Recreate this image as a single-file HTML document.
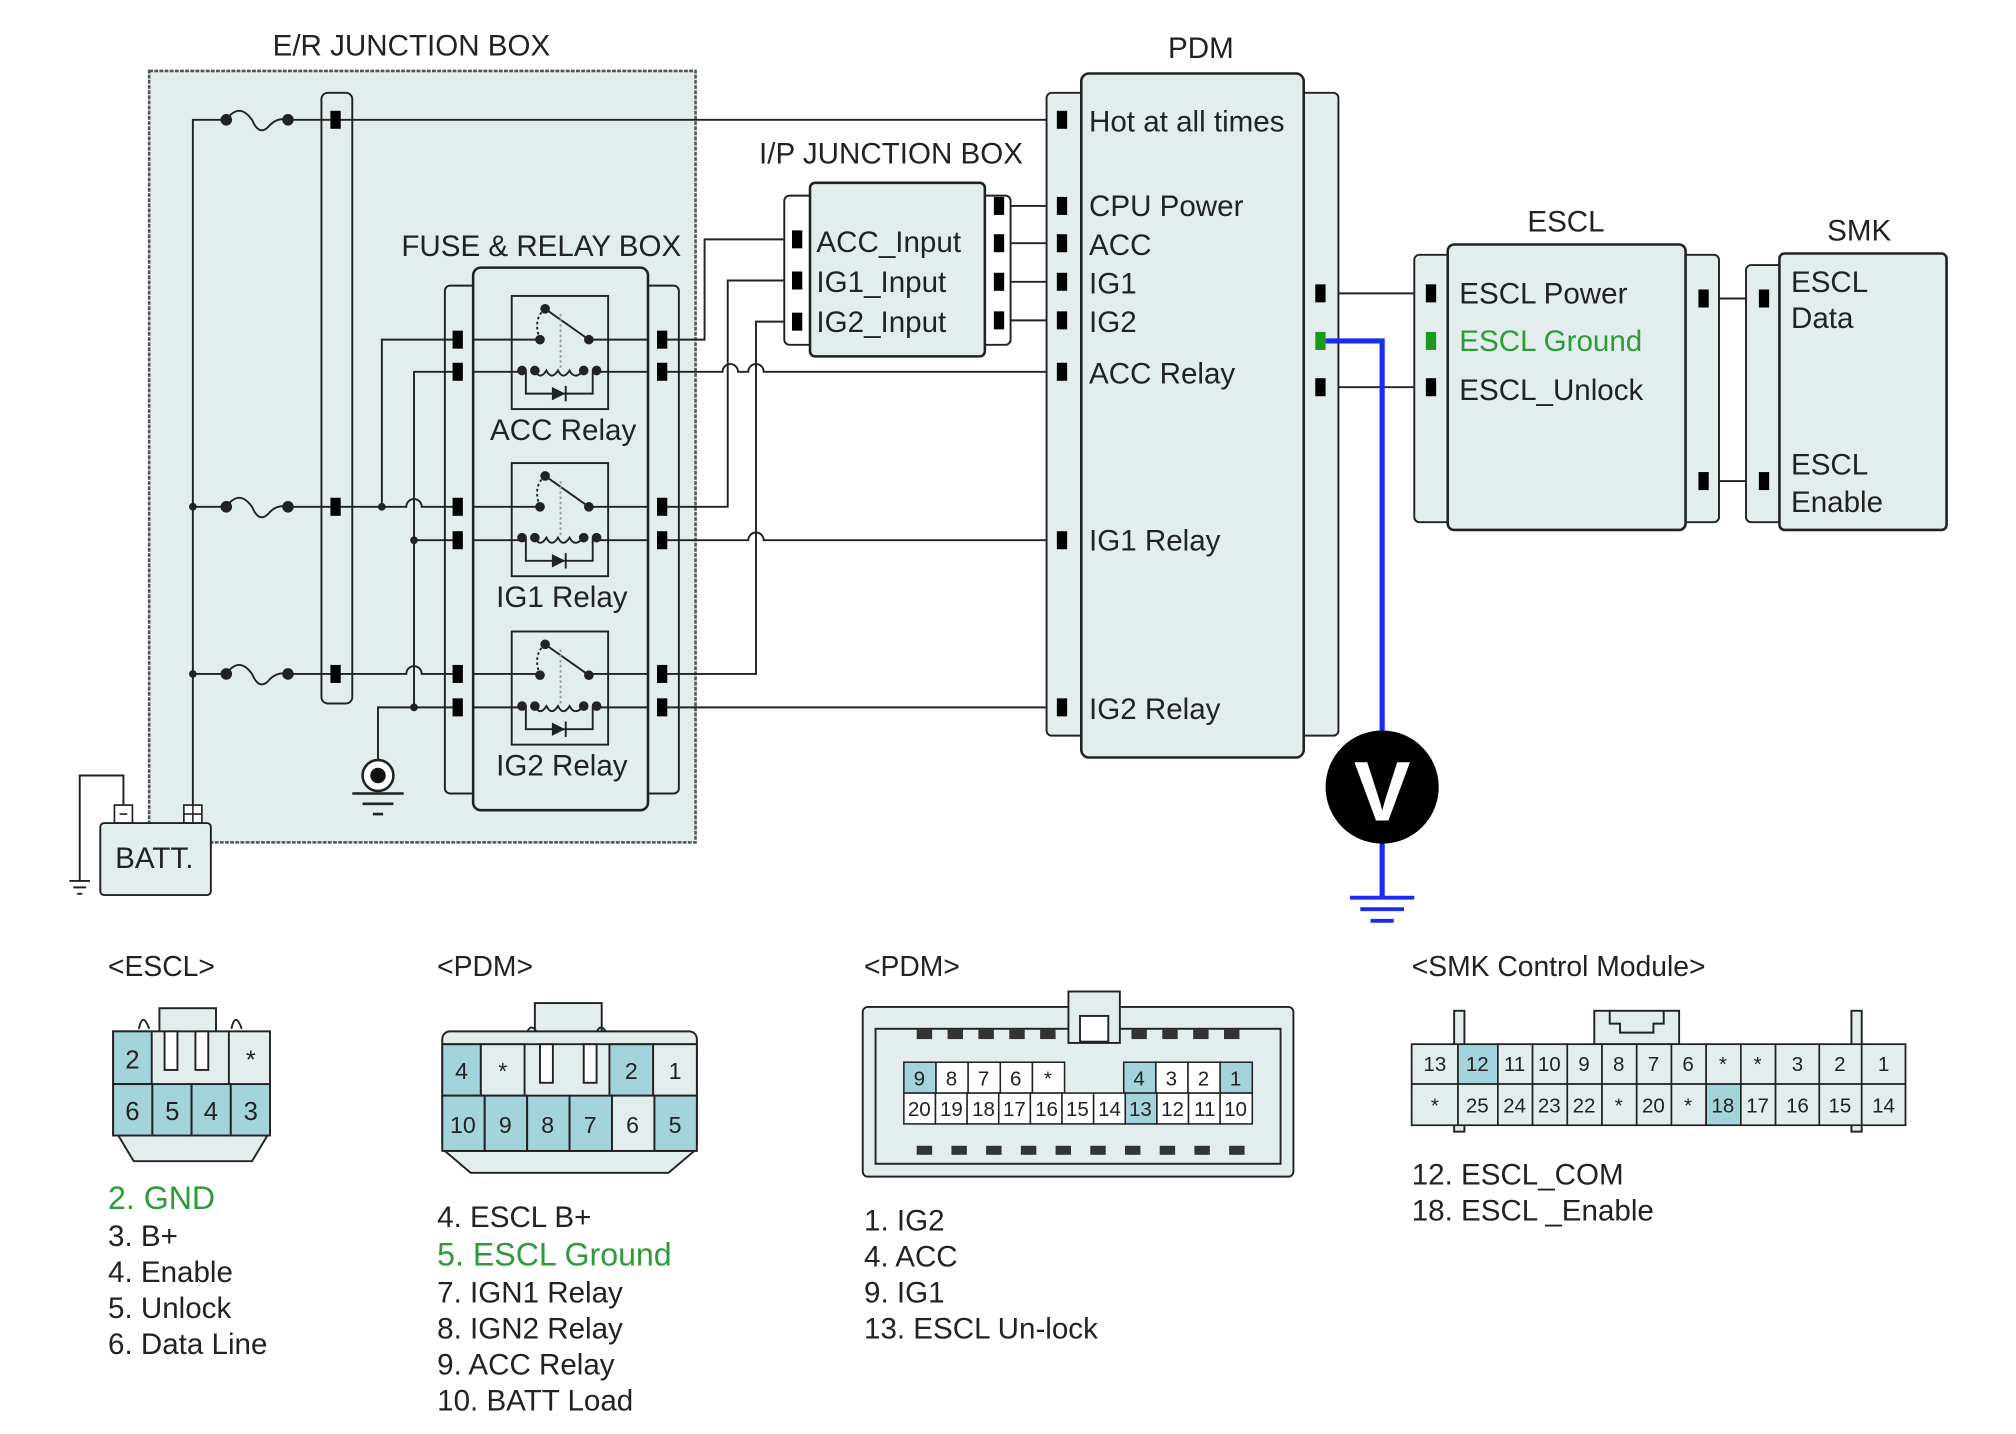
<!DOCTYPE html>
<html><head><meta charset="utf-8"><style>
html,body{margin:0;padding:0;background:#fff;width:2016px;height:1434px;overflow:hidden}
svg{display:block}
text{font-family:"Liberation Sans",sans-serif;fill:#222}
</style></head><body>
<svg width="2016" height="1434" viewBox="0 0 1568 1115" xmlns="http://www.w3.org/2000/svg">
<defs>
<g id="p"><rect x="-4" y="-7" width="8" height="14" fill="#000"/></g>
<g id="relay" fill="none" stroke="#222" stroke-width="1.5">
<rect x="0" y="0" width="75" height="88" fill="#e4eded"/>
<circle cx="26" cy="10" r="3" fill="#222"/>
<path d="M26 10 L60 34"/>
<circle cx="60" cy="34" r="3" fill="#222"/>
<circle cx="22" cy="34" r="3" fill="#222"/>
<path d="M26 10 Q16 18 22 34" stroke-dasharray="2 2"/>
<path d="M38 14 V56" stroke="#999" stroke-dasharray="2 2"/>
<circle cx="8" cy="58" r="3" fill="#222"/><circle cx="18" cy="58" r="3" fill="#222"/>
<circle cx="56" cy="58" r="3" fill="#222"/><circle cx="66" cy="58" r="3" fill="#222"/>
<path d="M18 58 q4 8 9 0 q4 8 9 0 q4 8 9 0 q4 8 11 0"/>
<path d="M11 58 V76 H63 V58"/>
<path d="M32 72 L40 76 L32 80 Z" fill="#222"/><path d="M42 70 V82"/>
</g>
</defs>

<rect x="116" y="55" width="425" height="600" fill="#e4eded" stroke="#555" stroke-width="2" stroke-dasharray="3 1"/>
<text x="320" y="43" font-size="23" text-anchor="middle">E/R JUNCTION BOX</text>
<rect x="250" y="72" width="24" height="475" rx="5" fill="none" stroke="#222" stroke-width="1.5"/>

<g fill="none" stroke="#222" stroke-width="1.5">
<path d="M150 632 V93 H176"/>
<path d="M176 93 q10 -14 20 0 q6 14 14 4 q6 -6 14 -4"/>
<path d="M224 93 H826"/>
<path d="M150 394 H176 M176 394 q10 -14 20 0 q6 14 14 4 q6 -6 14 -4 M224 394 H316 a6 6 0 0 1 12 0 H358"/>
<path d="M150 524 H176 M176 524 q10 -14 20 0 q6 14 14 4 q6 -6 14 -4 M224 524 H316 a6 6 0 0 1 12 0 H358"/>
<path d="M297 394 V264 H358"/>
<path d="M358 289 H322 V550 H358"/>
<path d="M322 420 H358"/>
<path d="M294 592 V550 H322"/>
<path d="M515 264 H548 V186 H620"/>
<path d="M515 289 H562 a6 6 0 0 1 12 0 H582 a6 6 0 0 1 12 0 H826"/>
<path d="M515 394 H566 V218 H620"/>
<path d="M515 420 H582 a6 6 0 0 1 12 0 H826"/>
<path d="M515 524 H588 V250 H620"/>
<path d="M515 550 H826"/>
<path d="M777 160 H826 M777 189 H826 M777 219 H826 M777 249 H826"/>
<path d="M1027 228 H1113 M1027 301 H1113 M1325 232 H1372 M1325 374 H1372"/>
</g>
<g fill="#222">
<circle cx="176" cy="93" r="4.5"/><circle cx="224" cy="93" r="4.5"/>
<circle cx="176" cy="394" r="4.5"/><circle cx="224" cy="394" r="4.5"/>
<circle cx="176" cy="524" r="4.5"/><circle cx="224" cy="524" r="4.5"/>
<circle cx="150" cy="394" r="3"/><circle cx="150" cy="524" r="3"/>
<circle cx="297" cy="394" r="3"/><circle cx="322" cy="420" r="3"/><circle cx="322" cy="550" r="3"/>
</g>
<circle cx="294" cy="603" r="12" fill="#fff" stroke="#222" stroke-width="2"/>
<circle cx="294" cy="603" r="6" fill="#111"/>
<path d="M274 617 H314 M282 625 H306 M290 633 H298" stroke="#222" stroke-width="2"/>

<text x="421" y="199" font-size="23" text-anchor="middle">FUSE &amp; RELAY BOX</text>
<rect x="346" y="222" width="30" height="395" rx="4" fill="none" stroke="#222" stroke-width="1.5"/>
<rect x="496" y="222" width="32" height="395" rx="4" fill="none" stroke="#222" stroke-width="1.5"/>
<rect x="368" y="208" width="136" height="422" rx="6" fill="#e4eded" stroke="#222" stroke-width="2"/>
<use href="#relay" x="398" y="230"/>
<use href="#relay" x="398" y="360"/>
<use href="#relay" x="398" y="491"/>
<g fill="none" stroke="#222" stroke-width="1.5">
<path d="M368 264 H420 M458 264 H504 M368 289 H406 M464 289 H504"/>
<path d="M368 394 H420 M458 394 H504 M368 420 H406 M464 420 H504"/>
<path d="M368 524 H420 M458 524 H504 M368 550 H406 M464 550 H504"/>
</g>
<text x="438" y="342" font-size="23" text-anchor="middle">ACC Relay</text>
<text x="437" y="472" font-size="23" text-anchor="middle">IG1 Relay</text>
<text x="437" y="603" font-size="23" text-anchor="middle">IG2 Relay</text>
<use href="#p" x="261" y="93"/><use href="#p" x="261" y="394"/><use href="#p" x="261" y="524"/>
<use href="#p" x="356" y="264"/><use href="#p" x="356" y="289"/><use href="#p" x="356" y="394"/><use href="#p" x="356" y="420"/><use href="#p" x="356" y="524"/><use href="#p" x="356" y="550"/>
<use href="#p" x="515" y="264"/><use href="#p" x="515" y="289"/><use href="#p" x="515" y="394"/><use href="#p" x="515" y="420"/><use href="#p" x="515" y="524"/><use href="#p" x="515" y="550"/>

<path d="M96 626 V603 H62 V685 M54 685 H70 M57 690 H67 M60 695 H64" fill="none" stroke="#222" stroke-width="1.5"/>
<rect x="89" y="626" width="14" height="14" fill="#fff" stroke="#222" stroke-width="1.3"/>
<rect x="143" y="626" width="14" height="14" fill="#fff" stroke="#222" stroke-width="1.3"/>
<path d="M150 626 V640 M143 633 H157 M93 633 H99" stroke="#222" stroke-width="1.2"/>
<rect x="78" y="640" width="86" height="56" rx="3" fill="#e4eded" stroke="#222" stroke-width="1.5"/>
<text x="120" y="675" font-size="23" text-anchor="middle">BATT.</text>

<text x="693" y="127" font-size="23" text-anchor="middle">I/P JUNCTION BOX</text>
<rect x="610" y="152" width="28" height="116" rx="4" fill="#fff" stroke="#222" stroke-width="1.5"/>
<rect x="758" y="152" width="28" height="116" rx="4" fill="#fff" stroke="#222" stroke-width="1.5"/>
<rect x="630" y="142" width="136" height="135" rx="4" fill="#e4eded" stroke="#222" stroke-width="2"/>
<text x="635" y="196" font-size="23">ACC_Input</text>
<text x="635" y="227" font-size="23">IG1_Input</text>
<text x="635" y="258" font-size="23">IG2_Input</text>
<use href="#p" x="620" y="186"/><use href="#p" x="620" y="218"/><use href="#p" x="620" y="250"/>
<use href="#p" x="777" y="160"/><use href="#p" x="777" y="189"/><use href="#p" x="777" y="219"/><use href="#p" x="777" y="249"/>

<text x="934" y="45" font-size="23" text-anchor="middle">PDM</text>
<rect x="814" y="72" width="36" height="500" rx="4" fill="#e4eded" stroke="#222" stroke-width="1.5"/>
<rect x="1005" y="72" width="36" height="500" rx="4" fill="#e4eded" stroke="#222" stroke-width="1.5"/>
<rect x="841" y="57" width="173" height="532" rx="6" fill="#e4eded" stroke="#222" stroke-width="2"/>
<g font-size="23">
<text x="847" y="102">Hot at all times</text>
<text x="847" y="168">CPU Power</text>
<text x="847" y="198">ACC</text>
<text x="847" y="228">IG1</text>
<text x="847" y="258">IG2</text>
<text x="847" y="298">ACC Relay</text>
<text x="847" y="428">IG1 Relay</text>
<text x="847" y="559">IG2 Relay</text>
</g>
<use href="#p" x="826" y="93"/><use href="#p" x="826" y="160"/><use href="#p" x="826" y="189"/><use href="#p" x="826" y="219"/><use href="#p" x="826" y="249"/><use href="#p" x="826" y="289"/><use href="#p" x="826" y="420"/><use href="#p" x="826" y="550"/>
<use href="#p" x="1027" y="228"/><use href="#p" x="1027" y="301"/>

<text x="1218" y="180" font-size="23" text-anchor="middle">ESCL</text>
<rect x="1100" y="198" width="36" height="208" rx="4" fill="#e4eded" stroke="#222" stroke-width="1.5"/>
<rect x="1301" y="198" width="36" height="208" rx="4" fill="#e4eded" stroke="#222" stroke-width="1.5"/>
<rect x="1126" y="190" width="185" height="222" rx="5" fill="#e4eded" stroke="#222" stroke-width="2"/>
<text x="1135" y="236" font-size="23">ESCL Power</text>
<text x="1135" y="273" font-size="23" style="fill:#2e9a3a">ESCL Ground</text>
<text x="1135" y="311" font-size="23">ESCL_Unlock</text>
<use href="#p" x="1113" y="228"/><use href="#p" x="1113" y="301"/>
<rect x="1109" y="258" width="8" height="14" fill="#1a9a1a"/>
<use href="#p" x="1325" y="232"/><use href="#p" x="1325" y="374"/>

<text x="1446" y="187" font-size="23" text-anchor="middle">SMK</text>
<rect x="1358" y="206" width="36" height="200" rx="4" fill="#e4eded" stroke="#222" stroke-width="1.5"/>
<rect x="1384" y="197" width="130" height="215" rx="4" fill="#e4eded" stroke="#222" stroke-width="2"/>
<g font-size="23"><text x="1393" y="227">ESCL</text><text x="1393" y="255">Data</text><text x="1393" y="369">ESCL</text><text x="1393" y="398">Enable</text></g>
<use href="#p" x="1372" y="232"/><use href="#p" x="1372" y="374"/>

<path d="M1031 265 H1075 V698" fill="none" stroke="#1a2cf0" stroke-width="4"/>
<path d="M1050 698 H1100 M1058 707 H1092 M1066 716 H1084" stroke="#1a2cf0" stroke-width="3"/>
<rect x="1023" y="258" width="8" height="14" fill="#1a9a1a"/>
<circle cx="1075" cy="612" r="44" fill="#000"/>
<text x="1075" y="638" font-size="66" font-weight="bold" text-anchor="middle" style="fill:#fff">V</text>

<g font-size="22">
<text x="84" y="759">&lt;ESCL&gt;</text>
<text x="340" y="759">&lt;PDM&gt;</text>
<text x="672" y="759">&lt;PDM&gt;</text>
<text x="1098" y="759">&lt;SMK Control Module&gt;</text>
</g>
<g font-size="23">
<text x="84" y="940" style="fill:#2e9a3a" font-size="25">2. GND</text>
<text x="84" y="969">3. B+</text>
<text x="84" y="997">4. Enable</text>
<text x="84" y="1025">5. Unlock</text>
<text x="84" y="1053">6. Data Line</text>
<text x="340" y="954">4. ESCL B+</text>
<text x="340" y="984" style="fill:#2e9a3a" font-size="25">5. ESCL Ground</text>
<text x="340" y="1013">7. IGN1 Relay</text>
<text x="340" y="1041">8. IGN2 Relay</text>
<text x="340" y="1069">9. ACC Relay</text>
<text x="340" y="1097">10. BATT Load</text>
<text x="672" y="957">1. IG2</text>
<text x="672" y="985">4. ACC</text>
<text x="672" y="1013">9. IG1</text>
<text x="672" y="1041">13. ESCL Un-lock</text>
<text x="1098" y="921">12. ESCL_COM</text>
<text x="1098" y="949">18. ESCL _Enable</text>
</g>

<g stroke="#222" stroke-width="1.5" font-size="18">
<path d="M92 883 L104 903 H196 L208 883" fill="#e4eded"/>
<path d="M108 800 q3 -14 8 0 M180 800 q3 -14 8 0" fill="none"/>
<rect x="124" y="784" width="44" height="28" fill="#e4eded"/>
<rect x="88" y="802" width="122" height="81" fill="#e4eded"/>
<rect x="88" y="802" width="30" height="41" fill="#a3d3db"/>
<rect x="128" y="802" width="10" height="30" fill="#fff"/><rect x="152" y="802" width="10" height="30" fill="#fff"/>
<rect x="88" y="843" width="30.5" height="40" fill="#a3d3db"/>
<rect x="118.5" y="843" width="30.5" height="40" fill="#a3d3db"/>
<rect x="149" y="843" width="30.5" height="40" fill="#a3d3db"/>
<rect x="179.5" y="843" width="30.5" height="40" fill="#a3d3db"/>
<line x1="178" y1="802" x2="178" y2="843"/>
</g>
<g font-size="20" text-anchor="middle"><text x="103" y="831">2</text><text x="195" y="831">*</text>
<text x="103" y="871">6</text><text x="134" y="871">5</text><text x="164" y="871">4</text><text x="195" y="871">3</text></g>

<g stroke="#222" stroke-width="1.5">
<path d="M346 895 L366 912 H520 L540 895" fill="#e4eded"/>
<rect x="416" y="780" width="52" height="34" fill="#e4eded"/>
<path d="M408 808 q5 -18 12 0 M462 808 q5 -18 12 0" fill="none"/>
<rect x="344" y="802" width="198" height="93" rx="6" fill="#e4eded"/>
<line x1="344" y1="812" x2="542" y2="812"/>
<rect x="344" y="812" width="30" height="40" fill="#a3d3db"/>
<rect x="374" y="812" width="34" height="40" fill="#e4eded"/>
<rect x="474" y="812" width="34" height="40" fill="#a3d3db"/>
<rect x="508" y="812" width="34" height="40" fill="#e4eded"/>
<rect x="420" y="812" width="10" height="30" fill="#fff"/><rect x="454" y="812" width="10" height="30" fill="#fff"/>
<rect x="344" y="852" width="33" height="43" fill="#a3d3db"/>
<rect x="377" y="852" width="33" height="43" fill="#a3d3db"/>
<rect x="410" y="852" width="33" height="43" fill="#a3d3db"/>
<rect x="443" y="852" width="33" height="43" fill="#a3d3db"/>
<rect x="476" y="852" width="33" height="43" fill="#e4eded"/>
<rect x="509" y="852" width="33" height="43" fill="#a3d3db"/>
</g>
<g font-size="18" text-anchor="middle"><text x="359" y="839">4</text><text x="391" y="839">*</text><text x="491" y="839">2</text><text x="525" y="839">1</text>
<text x="360" y="881">10</text><text x="393" y="881">9</text><text x="426" y="881">8</text><text x="459" y="881">7</text><text x="492" y="881">6</text><text x="525" y="881">5</text></g>

<g stroke="#222" stroke-width="1.5">
<rect x="671" y="783" width="335" height="132" rx="4" fill="#e4eded"/>
<rect x="681" y="800" width="315" height="105" fill="#e4eded"/>
<rect x="831" y="771" width="40" height="40" fill="#e4eded"/>
<rect x="840" y="790" width="22" height="20" fill="#fff"/>
</g>
<g fill="#333">
<rect x="713" y="800" width="12" height="8"/><rect x="737" y="800" width="12" height="8"/><rect x="761" y="800" width="12" height="8"/><rect x="785" y="800" width="12" height="8"/><rect x="809" y="800" width="12" height="8"/>
<rect x="880" y="800" width="12" height="8"/><rect x="904" y="800" width="12" height="8"/><rect x="928" y="800" width="12" height="8"/><rect x="952" y="800" width="12" height="8"/>
<rect x="713" y="891" width="12" height="7"/><rect x="740" y="891" width="12" height="7"/><rect x="767" y="891" width="12" height="7"/><rect x="794" y="891" width="12" height="7"/><rect x="821" y="891" width="12" height="7"/><rect x="848" y="891" width="12" height="7"/><rect x="875" y="891" width="12" height="7"/><rect x="902" y="891" width="12" height="7"/><rect x="929" y="891" width="12" height="7"/><rect x="956" y="891" width="12" height="7"/>
</g>
<g stroke="#222" stroke-width="1.2" fill="#fff">
<rect x="703" y="826" width="25" height="24" fill="#a3d3db"/><rect x="728" y="826" width="25" height="24"/><rect x="753" y="826" width="25" height="24"/><rect x="778" y="826" width="25" height="24"/><rect x="803" y="826" width="25" height="24"/>
<rect x="874" y="826" width="25" height="24" fill="#a3d3db"/><rect x="899" y="826" width="25" height="24"/><rect x="924" y="826" width="25" height="24"/><rect x="949" y="826" width="25" height="24" fill="#a3d3db"/>
<rect x="703" y="850" width="24.6" height="24"/><rect x="727.6" y="850" width="24.6" height="24"/><rect x="752.2" y="850" width="24.6" height="24"/><rect x="776.8" y="850" width="24.6" height="24"/><rect x="801.4" y="850" width="24.6" height="24"/><rect x="826" y="850" width="24.6" height="24"/><rect x="850.6" y="850" width="24.6" height="24"/><rect x="875.2" y="850" width="24.6" height="24" fill="#a3d3db"/><rect x="899.8" y="850" width="24.6" height="24"/><rect x="924.4" y="850" width="24.6" height="24"/><rect x="949" y="850" width="25" height="24"/>
</g>
<g font-size="16" text-anchor="middle">
<text x="715" y="844">9</text><text x="740" y="844">8</text><text x="765" y="844">7</text><text x="790" y="844">6</text><text x="815" y="844">*</text>
<text x="886" y="844">4</text><text x="911" y="844">3</text><text x="936" y="844">2</text><text x="961" y="844">1</text>
<text x="715" y="868">20</text><text x="740" y="868">19</text><text x="765" y="868">18</text><text x="789" y="868">17</text><text x="814" y="868">16</text><text x="838" y="868">15</text><text x="863" y="868">14</text><text x="887" y="868">13</text><text x="912" y="868">12</text><text x="937" y="868">11</text><text x="961" y="868">10</text>
</g>

<g stroke="#222" stroke-width="1.5" fill="#e4eded">
<rect x="1131" y="786" width="8" height="94"/><rect x="1440" y="786" width="8" height="94"/>
<rect x="1240" y="786" width="66" height="26"/>
<path d="M1252 786 V796 H1260 V803 H1286 V796 H1294 V786" fill="none"/>
</g>
<g stroke="#222" stroke-width="1.3" fill="#e4eded">
<rect x="1098" y="812" width="384" height="63"/>
<rect x="1098" y="812" width="36" height="31"/><rect x="1134" y="812" width="31" height="31" fill="#a3d3db"/>
<rect x="1165" y="812" width="27" height="31"/><rect x="1192" y="812" width="27" height="31"/><rect x="1219" y="812" width="27" height="31"/><rect x="1246" y="812" width="27" height="31"/><rect x="1273" y="812" width="27" height="31"/><rect x="1300" y="812" width="27" height="31"/><rect x="1327" y="812" width="27" height="31"/><rect x="1354" y="812" width="27" height="31"/>
<rect x="1381" y="812" width="34" height="31"/><rect x="1415" y="812" width="33" height="31"/><rect x="1448" y="812" width="34" height="31"/>
<rect x="1098" y="843" width="36" height="32"/><rect x="1134" y="843" width="31" height="32"/>
<rect x="1165" y="843" width="27" height="32"/><rect x="1192" y="843" width="27" height="32"/><rect x="1219" y="843" width="27" height="32"/><rect x="1246" y="843" width="27" height="32"/><rect x="1273" y="843" width="27" height="32"/><rect x="1300" y="843" width="27" height="32"/><rect x="1327" y="843" width="27" height="32" fill="#a3d3db"/><rect x="1354" y="843" width="27" height="32"/>
<rect x="1381" y="843" width="34" height="32"/><rect x="1415" y="843" width="33" height="32"/><rect x="1448" y="843" width="34" height="32"/>
</g>
<g font-size="16" text-anchor="middle">
<text x="1116" y="833">13</text><text x="1149" y="833">12</text><text x="1178" y="833">11</text><text x="1205" y="833">10</text><text x="1232" y="833">9</text><text x="1259" y="833">8</text><text x="1286" y="833">7</text><text x="1313" y="833">6</text><text x="1340" y="833">*</text><text x="1367" y="833">*</text><text x="1398" y="833">3</text><text x="1431" y="833">2</text><text x="1465" y="833">1</text>
<text x="1116" y="865">*</text><text x="1149" y="865">25</text><text x="1178" y="865">24</text><text x="1205" y="865">23</text><text x="1232" y="865">22</text><text x="1259" y="865">*</text><text x="1286" y="865">20</text><text x="1313" y="865">*</text><text x="1340" y="865">18</text><text x="1367" y="865">17</text><text x="1398" y="865">16</text><text x="1431" y="865">15</text><text x="1465" y="865">14</text>
</g>
</svg>
</body></html>
